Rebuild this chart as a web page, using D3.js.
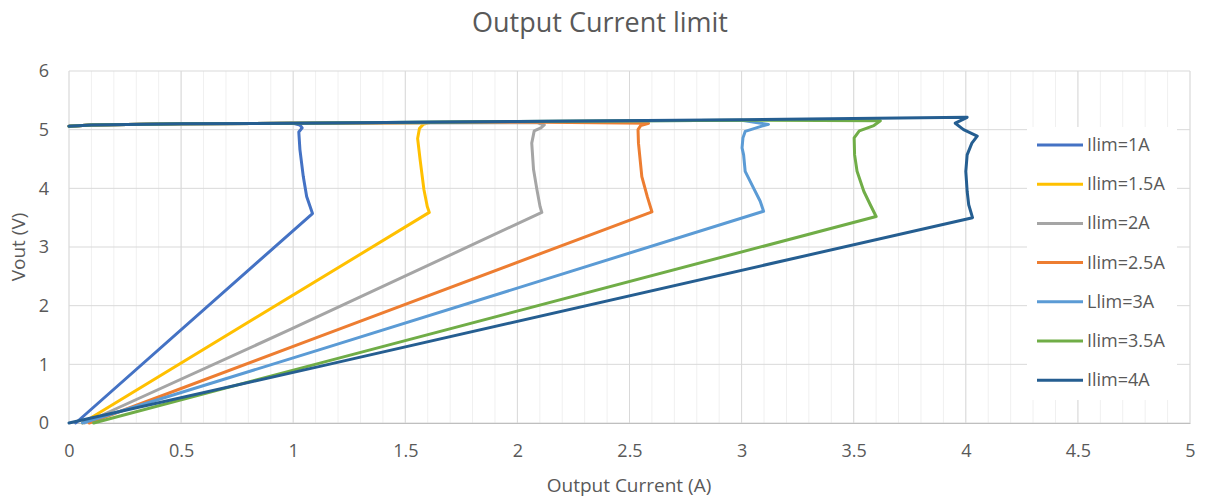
<!DOCTYPE html>
<html lang="en">
<head>
  <meta charset="UTF-8">
  <title>Output Current limit</title>
  <script src="https://d3js.org/d3.v7.min.js"></script>
  <style>
    body {
      margin: 0;
      background: #ffffff;
      font-family: 'Open Sans', sans-serif;
      overflow: hidden;
    }
    text {
      fill: #595959;
    }
  </style>
</head>
<body>
  <svg id="chart" width="1208" height="500"></svg>
  <script>
    // Series names as shown in the legend
    const seriesNames = ['Ilim=1A', 'Ilim=1.5A', 'Ilim=2A', 'Ilim=2.5A', 'Llim=3A', 'Ilim=3.5A', 'Ilim=4A'];
    const seriesColors = ['#4472C4', '#FFC000', '#A5A5A5', '#ED7D31', '#5B9BD5', '#70AD47', '#255E91'];

    // Each curve: [current (A), Vout (V)]
    // top line from 0 A, down the limit knee, then the foldback line to 0 V
    const ilim1 = [[0, 5.06], [0.1, 5.08], [0.5, 5.10], [1.0, 5.11], [1.03, 5.08], [1.04, 5.03], [1.025, 4.96],
      [1.03, 4.66], [1.045, 4.20], [1.06, 3.86], [1.086, 3.57], [0.03, 0]];
    const ilim15 = [[0, 5.06], [0.1, 5.08], [0.5, 5.10], [1.0, 5.11], [1.61, 5.12], [1.58, 5.09], [1.563, 5.02],
      [1.555, 4.85], [1.566, 4.49], [1.583, 3.98], [1.598, 3.69], [1.607, 3.59], [0.06, 0]];
    const ilim2 = [[0, 5.06], [0.1, 5.08], [0.5, 5.10], [1.0, 5.11], [2.087, 5.12], [2.12, 5.08], [2.105, 5.03],
      [2.075, 4.98], [2.064, 4.77], [2.072, 4.32], [2.087, 3.98], [2.101, 3.69], [2.109, 3.59], [0.985, 1.59], [0.07, 0]];
    const ilim25 = [[0, 5.06], [0.1, 5.08], [0.5, 5.10], [1.0, 5.11], [2.0, 5.13], [2.585, 5.11], [2.55, 5.07],
      [2.538, 5.0], [2.54, 4.77], [2.555, 4.20], [2.58, 3.85], [2.60, 3.60], [1.119, 1.476], [0.09, 0]];
    const ilim3 = [[0, 5.06], [0.1, 5.08], [0.5, 5.10], [1.0, 5.11], [2.0, 5.14], [3.0, 5.16], [3.12, 5.09],
      [3.09, 5.06], [3.016, 4.97], [3.006, 4.86], [3.002, 4.69], [3.009, 4.57], [3.016, 4.29], [3.054, 4.0],
      [3.083, 3.78], [3.098, 3.61], [1.119, 1.25], [0.06, 0]];
    const ilim35 = [[0, 5.06], [0.1, 5.08], [0.5, 5.10], [1.0, 5.11], [2.0, 5.14], [3.0, 5.16], [3.619, 5.15],
      [3.59, 5.07], [3.525, 4.98], [3.502, 4.86], [3.504, 4.57], [3.515, 4.29], [3.545, 3.95], [3.574, 3.72],
      [3.60, 3.52], [1.119, 1.02], [0.11, 0]];
    const ilim4 = [[0, 5.06], [0.1, 5.08], [0.5, 5.10], [1.0, 5.11], [2.0, 5.14], [3.0, 5.17], [4.006, 5.21],
      [3.953, 5.11], [3.99, 5.0], [4.051, 4.89], [4.027, 4.77], [4.006, 4.57], [4.0, 4.29], [4.006, 3.95],
      [4.013, 3.72], [4.03, 3.50], [1.119, 0.965], [0, 0]];
    const seriesValues = [ilim1, ilim15, ilim2, ilim25, ilim3, ilim35, ilim4];

    const xTicks = [0, 0.5, 1, 1.5, 2, 2.5, 3, 3.5, 4, 4.5, 5];
    const xMinorTicks = d3.range(0, 51).map(i => i / 10);
    const yTicks = [0, 1, 2, 3, 4, 5, 6];

    const svg = d3.select('#chart');
    const margin = { left: 69, right: 18, top: 71, bottom: 77 };
    const width = 1208, height = 500;

    const x = d3.scaleLinear().domain([0, 5]).range([margin.left, width - margin.right]);
    const y = d3.scaleLinear().domain([0, 6]).range([height - margin.bottom, margin.top]);

    // Title
    svg.append('text')
      .attr('x', 600)
      .attr('y', 32)
      .attr('text-anchor', 'middle')
      .style('font-size', '27px')
      .text('Output Current limit');

    // Minor vertical grid
    svg.append('g')
      .selectAll('line')
      .data(xMinorTicks)
      .enter().append('line')
      .attr('x1', d => x(d)).attr('x2', d => x(d))
      .attr('y1', y(0)).attr('y2', y(6))
      .attr('stroke', '#f0f0f0')
      .attr('stroke-width', 1);

    // Major vertical grid
    svg.append('g')
      .selectAll('line')
      .data(xTicks)
      .enter().append('line')
      .attr('x1', d => x(d)).attr('x2', d => x(d))
      .attr('y1', y(0)).attr('y2', y(6))
      .attr('stroke', '#d9d9d9')
      .attr('stroke-width', 1);

    // Horizontal grid
    svg.append('g')
      .selectAll('line')
      .data(yTicks)
      .enter().append('line')
      .attr('x1', x(0)).attr('x2', x(5))
      .attr('y1', d => y(d)).attr('y2', d => y(d))
      .attr('stroke', '#d9d9d9')
      .attr('stroke-width', 1);

    // Axes (labels only)
    const xAxis = svg.append('g')
      .attr('transform', `translate(0,${y(0)})`)
      .call(d3.axisBottom(x).tickValues(xTicks).tickSize(0).tickPadding(21).tickFormat(d3.format('')));
    xAxis.select('.domain').attr('stroke', '#bfbfbf');
    xAxis.selectAll('text').style('font-size', '18px').style('fill', '#595959').style('font-family', 'Open Sans');

    const yAxis = svg.append('g')
      .attr('transform', `translate(${x(0)},0)`)
      .call(d3.axisLeft(y).tickValues(yTicks).tickSize(0).tickPadding(20).tickFormat(d3.format('d')));
    yAxis.select('.domain').remove();
    yAxis.selectAll('text').style('font-size', '18px').style('fill', '#595959').style('font-family', 'Open Sans');

    // Axis titles
    svg.append('text')
      .attr('x', 629)
      .attr('y', 492)
      .attr('text-anchor', 'middle')
      .style('font-size', '19px')
      .text('Output Current (A)');

    svg.append('text')
      .attr('transform', `translate(25,${(y(0) + y(6)) / 2}) rotate(-90)`)
      .attr('text-anchor', 'middle')
      .style('font-size', '19px')
      .text('Vout (V)');

    // Legend background box
    const legendX = 1027, legendY = 127;
    svg.append('rect')
      .attr('x', legendX).attr('y', legendY)
      .attr('width', 150).attr('height', 273)
      .attr('fill', '#ffffff');

    // Curves
    const line = d3.line()
      .x(d => x(d[0]))
      .y(d => y(d[1]));

    svg.append('g')
      .selectAll('path')
      .data(seriesValues)
      .enter().append('path')
      .attr('d', line)
      .attr('fill', 'none')
      .attr('stroke', (d, i) => seriesColors[i])
      .attr('stroke-width', 3)
      .attr('stroke-linejoin', 'round')
      .attr('stroke-linecap', 'round');

    // Legend entries
    const legend = svg.append('g')
      .selectAll('g')
      .data(seriesNames)
      .enter().append('g')
      .attr('transform', (d, i) => `translate(${legendX + 10},${145 + i * 39.2})`);

    legend.append('line')
      .attr('x1', 0).attr('x2', 46)
      .attr('y1', 0).attr('y2', 0)
      .attr('stroke', (d, i) => seriesColors[i])
      .attr('stroke-width', 3);

    legend.append('text')
      .attr('x', 50)
      .attr('y', 6)
      .style('font-size', '18px')
      .text(d => d);
  </script>
</body>
</html>
